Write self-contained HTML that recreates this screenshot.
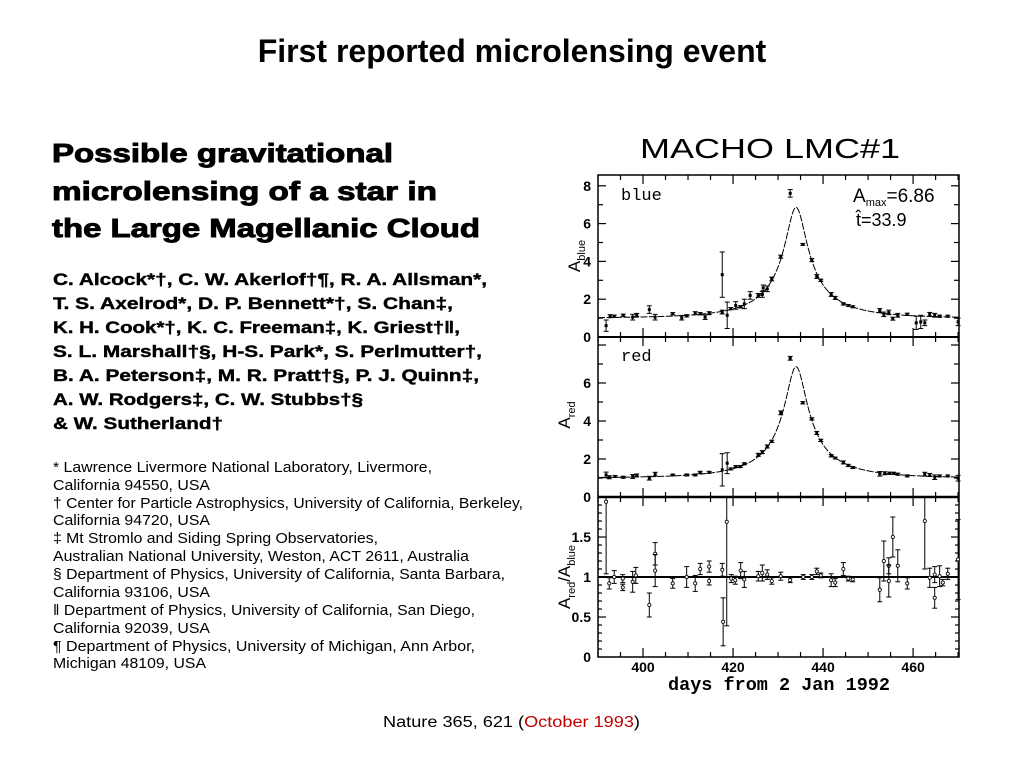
<!DOCTYPE html>
<html><head><meta charset="utf-8"><style>
html,body{margin:0;padding:0;background:#fff;width:1024px;height:768px;overflow:hidden}
svg{position:absolute;left:0;top:0}
text{font-family:"Liberation Sans",sans-serif}
text.mono{font-family:"Liberation Mono",monospace}
</style></head><body>
<svg width="1024" height="768" id="page">
<text x="512" y="62" text-anchor="middle" font-size="32" font-weight="bold">First reported microlensing event</text>
<g font-weight="bold" font-size="26" stroke="#000" stroke-width="0.9">
<text x="52" y="162" textLength="341" lengthAdjust="spacingAndGlyphs">Possible gravitational</text>
<text x="52" y="200" textLength="385" lengthAdjust="spacingAndGlyphs">microlensing of a star in</text>
<text x="52" y="237" textLength="428" lengthAdjust="spacingAndGlyphs">the Large Magellanic Cloud</text>
</g>
<g font-weight="bold" font-size="17" stroke="#000" stroke-width="0.4">
<text x="53" y="285" textLength="434" lengthAdjust="spacingAndGlyphs">C. Alcock*†, C. W. Akerlof†¶, R. A. Allsman*,</text>
<text x="53" y="309" textLength="400" lengthAdjust="spacingAndGlyphs">T. S. Axelrod*, D. P. Bennett*†, S. Chan‡,</text>
<text x="53" y="333" textLength="407" lengthAdjust="spacingAndGlyphs">K. H. Cook*†, K. C. Freeman‡, K. Griest†‖,</text>
<text x="53" y="357" textLength="429" lengthAdjust="spacingAndGlyphs">S. L. Marshall†§, H-S. Park*, S. Perlmutter†,</text>
<text x="53" y="381" textLength="426" lengthAdjust="spacingAndGlyphs">B. A. Peterson‡, M. R. Pratt†§, P. J. Quinn‡,</text>
<text x="53" y="405" textLength="310" lengthAdjust="spacingAndGlyphs">A. W. Rodgers‡, C. W. Stubbs†§</text>
<text x="53" y="429" textLength="170" lengthAdjust="spacingAndGlyphs">&amp; W. Sutherland†</text>
</g>
<g font-size="14.5">
<text x="53" y="472" textLength="379" lengthAdjust="spacingAndGlyphs">* Lawrence Livermore National Laboratory, Livermore,</text>
<text x="53" y="490" textLength="157" lengthAdjust="spacingAndGlyphs">California 94550, USA</text>
<text x="53" y="508" textLength="470" lengthAdjust="spacingAndGlyphs">† Center for Particle Astrophysics, University of California, Berkeley,</text>
<text x="53" y="525" textLength="157" lengthAdjust="spacingAndGlyphs">California 94720, USA</text>
<text x="53" y="543" textLength="325" lengthAdjust="spacingAndGlyphs">‡ Mt Stromlo and Siding Spring Observatories,</text>
<text x="53" y="561" textLength="416" lengthAdjust="spacingAndGlyphs">Australian National University, Weston, ACT 2611, Australia</text>
<text x="53" y="579" textLength="452" lengthAdjust="spacingAndGlyphs">§ Department of Physics, University of California, Santa Barbara,</text>
<text x="53" y="597" textLength="157" lengthAdjust="spacingAndGlyphs">California 93106, USA</text>
<text x="53" y="615" textLength="422" lengthAdjust="spacingAndGlyphs">‖ Department of Physics, University of California, San Diego,</text>
<text x="53" y="633" textLength="157" lengthAdjust="spacingAndGlyphs">California 92039, USA</text>
<text x="53" y="651" textLength="422" lengthAdjust="spacingAndGlyphs">¶ Department of Physics, University of Michigan, Ann Arbor,</text>
<text x="53" y="668" textLength="153" lengthAdjust="spacingAndGlyphs">Michigan 48109, USA</text>
</g>
<text x="640" y="158" font-size="28" textLength="260" lengthAdjust="spacingAndGlyphs">MACHO LMC#1</text>
<text x="383" y="727" font-size="15.5" textLength="257" lengthAdjust="spacingAndGlyphs">Nature 365, 621 (<tspan fill="#c00000">October 1993</tspan>)</text>
<g id="chart"></g>
</svg>
<script>
const blueDays=[391.8,392.7,393.6,395.6,397.7,398.6,401.4,402.7,406.6,408.6,409.7,411.6,412.7,413.8,414.7,417.6,417.6,418.7,419.5,420.6,421.7,422.5,423.8,425.6,426.5,426.7,427.6,428.6,430.6,432.7,435.5,437.5,438.6,439.5,441.8,442.7,444.5,445.6,446.6,452.6,453.5,454.6,455.5,456.6,458.7,460.7,461.7,462.6,463.7,464.8,465.9,467.7,470];
const blueVals=[0.6,1.1,1.1,1.15,1.05,1.17,1.45,1.05,1.23,1.02,1.12,1.26,1.23,1.05,1.26,1.32,3.3,1.15,1.5,1.67,1.6,1.75,2.2,2.2,2.25,2.6,2.55,3.07,4.25,7.6,4.9,4.07,3.2,3.0,2.25,2.07,1.75,1.67,1.6,1.4,1.2,1.3,0.97,1.15,1.2,0.75,0.8,0.75,1.2,1.15,1.1,1.1,0.8];
const blueErrs=[0.3,0.08,0.06,0.06,0.15,0.08,0.2,0.15,0.06,0.12,0.06,0.08,0.06,0.12,0.08,0.1,1.2,0.7,0.06,0.2,0.06,0.25,0.2,0.1,0.15,0.15,0.15,0.1,0.08,0.2,0.05,0.08,0.1,0.06,0.1,0.08,0.06,0.05,0.05,0.1,0.12,0.12,0.08,0.1,0.06,0.35,0.35,0.15,0.1,0.1,0.06,0.05,0.2];
const redDays=[391.8,392.5,393.8,395.6,397.7,398.6,401.4,402.7,406.6,409.7,411.6,412.7,414.7,417.6,418.7,419.5,420.6,421.6,422.5,425.6,426.5,427.6,428.6,430.6,432.7,435.5,437.5,438.6,439.5,441.8,442.7,444.5,445.6,446.6,452.6,453.7,454.8,455.7,456.6,458.7,462.6,463.7,464.8,465.9,467.7,470];
const redVals=[1.16,1.04,1.08,1.04,1.08,1.15,0.99,1.2,1.16,1.16,1.16,1.3,1.3,1.43,1.78,1.48,1.6,1.6,1.75,2.22,2.36,2.66,2.93,4.43,7.3,4.96,4.11,3.37,2.98,2.17,2.05,1.82,1.66,1.55,1.22,1.25,1.25,1.25,1.2,1.11,1.2,1.16,1.04,1.11,1.11,0.99];
const redErrs=[0.15,0.08,0.05,0.05,0.1,0.06,0.1,0.1,0.04,0.05,0.05,0.05,0.05,0.85,0.55,0.05,0.05,0.05,0.05,0.08,0.08,0.08,0.06,0.1,0.1,0.06,0.06,0.08,0.06,0.06,0.05,0.08,0.06,0.05,0.12,0.08,0.06,0.05,0.05,0.05,0.1,0.08,0.12,0.05,0.05,0.15];
const ratioDays=[391.8,392.5,393.6,395.5,395.5,397.7,398.4,402.7,402.7,401.4,406.6,409.7,411.6,412.7,414.7,414.7,417.6,417.8,418.6,419.6,420.5,421.7,422.5,425.6,426.5,427.6,428.6,430.6,432.7,435.6,437.5,438.6,439.5,441.8,442.7,444.5,445.6,446.6,452.6,453.5,454.6,454.6,455.5,456.6,458.7,462.6,463.7,464.8,464.8,465.9,466.6,467.7,470];
const ratioVals=[1.94,0.92,1.0,0.87,0.98,0.94,1.02,1.29,1.08,0.65,0.92,1.0,0.92,1.1,1.13,0.95,1.09,0.44,1.69,0.98,0.96,1.08,0.97,1.01,1.05,1.03,0.95,1.01,0.96,1.0,1.0,1.07,1.02,0.96,0.93,1.1,0.98,0.97,0.84,1.2,1.14,0.95,1.5,1.14,0.92,1.7,0.99,0.74,1.03,1.01,0.93,1.04,1.22];
const ratioErrs=[0.9,0.07,0.08,0.04,0.05,0.13,0.1,0.14,0.2,0.15,0.06,0.13,0.1,0.07,0.07,0.05,0.08,0.3,1.3,0.05,0.05,0.1,0.1,0.06,0.1,0.06,0.04,0.05,0.03,0.03,0.03,0.04,0.03,0.08,0.05,0.08,0.03,0.03,0.15,0.25,0.1,0.2,0.25,0.2,0.07,0.6,0.12,0.13,0.1,0.13,0.04,0.07,0.5];
const xTicks=[400,420,440,460];
const blueTicks=[0,2,4,6,8];
const redTicks=[0,2,4,6];
const ratioTicks=[0,0.5,1,1.5];
const ratioTickLabels=["0","0.5","1","1.5"];
const modelParams=[434.0,0.147,17.0]; // t0, umin, tE

const NS="http://www.w3.org/2000/svg";
const g=document.getElementById('chart');
const L=598,R=959,D0=390,D1=470.2;
const X=d=>L+(d-D0)*(R-L)/(D1-D0);
const panels=[{top:175,bot:337,y:v=>337-v*18.9},{top:337,bot:497,y:v=>497-v*19.0},{top:497,bot:657,y:v=>657-v*80}];
function el(tag,attrs,parent){const e=document.createElementNS(NS,tag);for(const k in attrs)e.setAttribute(k,attrs[k]);(parent||g).appendChild(e);return e;}
function line(x1,y1,x2,y2,w,col){return el('line',{x1,y1,x2,y2,stroke:col||'#000','stroke-width':w||1});}
const fr=el('rect',{x:L,y:175,width:R-L,height:657-175,fill:'none',stroke:'#000','stroke-width':1.5});


line(L,337,R,337,2);line(L,497,R,497,2.5);
for(let d=390;d<=470;d+=5){const x=X(d);const maj=d%20===0;const len=maj?9:5;
 panels.forEach(p=>{line(x,p.top,x,p.top+len,1.2);line(x,p.bot,x,p.bot-len,1.2);});}
xTicks.forEach(d=>{const t=el('text',{x:X(d),y:672,'text-anchor':'middle','font-size':14,'font-weight':'bold'});t.textContent=d;
 
 });
[[0,blueTicks],[1,redTicks]].forEach(([i,ticks])=>{const p=panels[i];for(let v=0;v<=8;v+=1){const y=p.y(v);if(y<p.top+2)continue;const len=v%2===0?8:5;
 line(L,y,L+len,y,1.2);line(R,y,R-len,y,1.2);}
 ticks.forEach(v=>{const y=p.y(v);const t=el('text',{x:L-7,y:y+5,'text-anchor':'end','font-size':14,'font-weight':'bold'});t.textContent=v;
 
 });});
{const p=panels[2];for(let v=0.1;v<2;v+=0.1){const y=p.y(v);const maj=Math.abs(v*2-Math.round(v*2))<1e-6;const len=maj?8:4;line(L,y,L+len,y,1.2);line(R,y,R-len,y,1.2);}
 ratioTicks.forEach((v,i)=>{const t=el('text',{x:L-7,y:p.y(v)+5,'text-anchor':'end','font-size':14,'font-weight':'bold'});t.textContent=ratioTickLabels[i];
 
 });
 const rl=line(L,p.y(1),R,p.y(1),2);
 
 }
function amp(t){const u0=modelParams[1],tE=modelParams[2];const tau=(t-modelParams[0])/tE;const u=Math.sqrt(u0*u0+tau*tau);return (u*u+2)/(u*Math.sqrt(u*u+4));}
[0,1].forEach(i=>{const p=panels[i];let dpath='';for(let t=D0;t<=D1;t+=0.1){dpath+=(dpath?'L':'M')+X(t).toFixed(1)+','+p.y(amp(t)).toFixed(1);}
 const c=el('path',{d:dpath,fill:'none',stroke:'#000','stroke-width':1,'stroke-dasharray':'7 1.5'});
 
 });
function drawPts(days,vals,errs,p,name,circle){days.forEach((d,i)=>{const x=X(d),y=p.y(vals[i]);const e=errs[i];
 const y1=Math.max(p.top,p.y(vals[i]+e)),y2=Math.min(p.bot,p.y(vals[i]-e));
 const grp=el('g',{});
 
 
 el('line',{x1:x,y1:y1,x2:x,y2:y2,stroke:'#000','stroke-width':1},grp);
 el('line',{x1:x-2.5,y1:y1,x2:x+2.5,y2:y1,stroke:'#000','stroke-width':1},grp);
 el('line',{x1:x-2.5,y1:y2,x2:x+2.5,y2:y2,stroke:'#000','stroke-width':1},grp);
 if(circle)el('circle',{cx:x,cy:y,r:1.6,fill:'#fff',stroke:'#000','stroke-width':0.8},grp);
 else el('rect',{x:x-1.5,y:y-1.5,width:3,height:3,fill:'#000'},grp);});}
drawPts(blueDays,blueVals,blueErrs,panels[0],'blue-point',false);
drawPts(redDays,redVals,redErrs,panels[1],'red-point',false);
drawPts(ratioDays,ratioVals,ratioErrs,panels[2],'ratio-point',true);
function txt(s,a,name){const t=el('text',a);t.textContent=s;return t;}
txt('blue',{x:621,y:200,'font-size':17,'class':'mono'},'blue-panel-label');
txt('red',{x:621,y:361,'font-size':17,'class':'mono'},'red-panel-label');
const am=txt('A',{x:853,y:202,'font-size':19},'amax-annotation');
const ts=el('tspan',{'font-size':11,dy:4},am);ts.textContent='max';
const ts2=el('tspan',{dy:-4},am);ts2.textContent='=6.86';
txt('t̂=33.9',{x:856,y:226,'font-size':18},'timescale-annotation');
txt('days from 2 Jan 1992',{x:779,y:690,'text-anchor':'middle','font-size':18,'class':'mono','font-weight':'bold',textLength:222,lengthAdjust:'spacingAndGlyphs'},'x-axis-title');
function ylab(parts,cx,cy,name){const t=el('text',{transform:`translate(${cx},${cy}) rotate(-90)`,'text-anchor':'middle','font-size':17});
 
 let sub=false;parts.forEach(([s,isSub])=>{const a={};if(isSub&&!sub)a.dy=5;if(!isSub&&sub)a.dy=-5;if(isSub)a['font-size']=11;sub=!!isSub;const sp=el('tspan',a,t);sp.textContent=s;});}
ylab([['A',0],['blue',1]],580,256,'y-axis-title-blue');
ylab([['A',0],['red',1]],570,415,'y-axis-title-red');
ylab([['A',0],['red',1],['/A',0],['blue',1]],570,577,'y-axis-title-ratio');
</script>
</body></html>
